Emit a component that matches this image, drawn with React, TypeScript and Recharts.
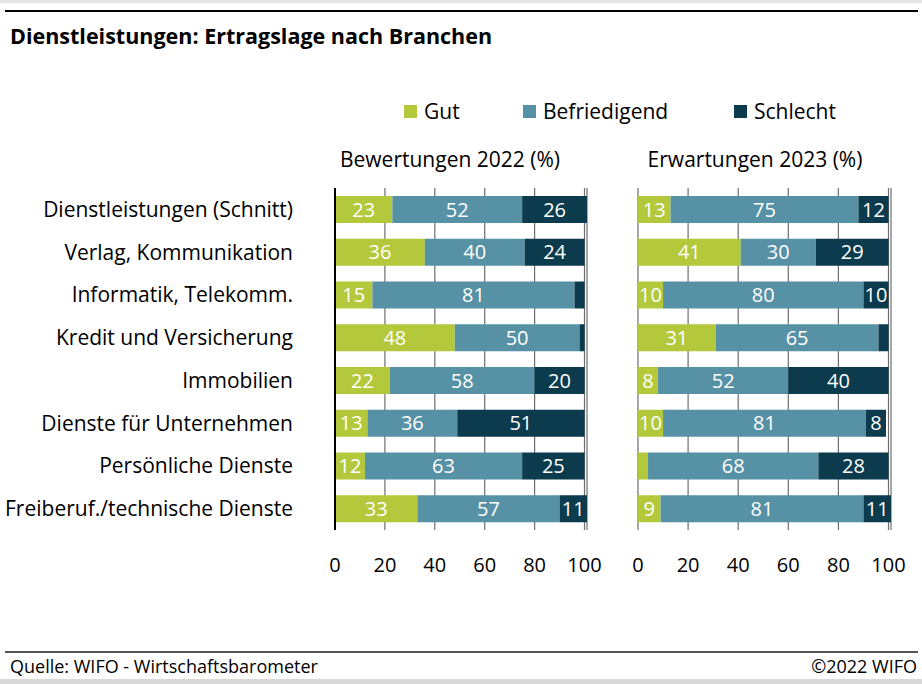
import React from "react";
import {
  BarChart,
  Bar,
  XAxis,
  YAxis,
  CartesianGrid,
  LabelList,
} from "recharts";

const categories = [
  "Dienstleistungen (Schnitt)",
  "Verlag, Kommunikation",
  "Informatik, Telekomm.",
  "Kredit und Versicherung",
  "Immobilien",
  "Dienste für Unternehmen",
  "Persönliche Dienste",
  "Freiberuf./technische Dienste",
];

const gut2022 = [23, 36, 15, 48, 22, 13, 12, 33];
const befr2022 = [52, 40, 81, 50, 58, 36, 63, 57];
const schl2022 = [26, 24, 4, 2, 20, 51, 25, 11];

const gut2023 = [13, 41, 10, 31, 8, 10, 4, 9];
const befr2023 = [75, 30, 80, 65, 52, 81, 68, 81];
const schl2023 = [12, 29, 10, 4, 40, 8, 28, 11];

const xTicks = [0, 20, 40, 60, 80, 100];

const GREEN = "#b3c93b";
const BLUE = "#5791a6";
const DARK = "#0b3b4d";
const FONT = "'Open Sans', sans-serif";

const data2022 = categories.map((name, i) => ({
  name,
  gut: gut2022[i],
  befr: befr2022[i],
  schl: schl2022[i],
}));

const data2023 = categories.map((name, i) => ({
  name,
  gut: gut2023[i],
  befr: befr2023[i],
  schl: schl2023[i],
}));

// small segments carry no label in the original
const hideSmall = (v: any) => (Number(v) >= 5 ? v : "");

function renderBars() {
  const lbl = (key: string) => (
    <LabelList
      dataKey={key}
      position="center"
      fill="#ffffff"
      fontSize={20}
      fontFamily={FONT}
      formatter={hideSmall}
    />
  );
  return [
    <Bar key="gut" dataKey="gut" stackId="a" fill={GREEN} barSize={27} isAnimationActive={false}>
      {lbl("gut")}
    </Bar>,
    <Bar key="befr" dataKey="befr" stackId="a" fill={BLUE} barSize={27} isAnimationActive={false}>
      {lbl("befr")}
    </Bar>,
    <Bar key="schl" dataKey="schl" stackId="a" fill={DARK} barSize={27} isAnimationActive={false}>
      {lbl("schl")}
    </Bar>,
  ];
}

function xAxis() {
  return (
    <XAxis
      type="number"
      domain={[0, 100]}
      ticks={xTicks}
      axisLine={false}
      tickLine={false}
      tickMargin={22}
      height={50}
      tick={{ fontSize: 20, fill: "#000", fontFamily: FONT }}
      interval={0}
    />
  );
}

export default function App() {
  const legend = [
    { label: "Gut", color: GREEN, x: 404 },
    { label: "Befriedigend", color: BLUE, x: 523 },
    { label: "Schlecht", color: DARK, x: 734 },
  ];
  return (
    <div
      style={{
        position: "absolute",
        left: 0,
        top: 0,
        width: 922,
        height: 684,
        background: "#fff",
        fontFamily: FONT,
        color: "#000",
        overflow: "hidden",
      }}
    >
      <div style={{ position: "absolute", left: 0, top: 0, width: 922, height: 3, background: "#e6e6e6" }} />
      <div style={{ position: "absolute", left: 5, top: 10, width: 913, height: 2, background: "#000" }} />
      <div
        style={{
          position: "absolute",
          left: 10,
          top: 21,
          fontSize: 21.5,
          fontWeight: 700,
          whiteSpace: "nowrap",
        }}
      >
        Dienstleistungen: Ertragslage nach Branchen
      </div>

      {legend.map((l) => (
        <div
          key={l.label}
          style={{
            position: "absolute",
            left: l.x,
            top: 97,
            display: "flex",
            alignItems: "center",
            fontSize: 21,
            whiteSpace: "nowrap",
          }}
        >
          <span style={{ display: "inline-block", width: 13, height: 13, background: l.color, marginRight: 7 }} />
          {l.label}
        </div>
      ))}

      <div style={{ position: "absolute", left: 300, width: 300, top: 145, textAlign: "center", fontSize: 21, whiteSpace: "nowrap" }}>
        Bewertungen 2022 (%)
      </div>
      <div style={{ position: "absolute", left: 605, width: 300, top: 145, textAlign: "center", fontSize: 21, whiteSpace: "nowrap" }}>
        Erwartungen 2023 (%)
      </div>

      <div style={{ position: "absolute", left: 0, top: 180 }}>
        <BarChart
          width={616}
          height={400}
          data={data2022}
          layout="vertical"
          margin={{ top: 8, right: 29, bottom: 0, left: 0 }}
          barCategoryGap={0}
        >
          <CartesianGrid horizontal={false} stroke="#6e6e6e" strokeWidth={1.2} />
          {xAxis()}
          <YAxis
            type="category"
            dataKey="name"
            width={335}
            axisLine={{ stroke: "#000", strokeWidth: 2 }}
            tickLine={false}
            tickMargin={36}
            interval={0}
            tick={{ fontSize: 21, fill: "#000", fontFamily: FONT }}
          />
          {renderBars()}
        </BarChart>
      </div>

      <div style={{ position: "absolute", left: 600, top: 180 }}>
        <BarChart
          width={322}
          height={400}
          data={data2023}
          layout="vertical"
          margin={{ top: 8, right: 31, bottom: 0, left: 38 }}
          barCategoryGap={0}
        >
          <CartesianGrid horizontal={false} stroke="#6e6e6e" strokeWidth={1.2} />
          {xAxis()}
          <YAxis
            type="category"
            dataKey="name"
            width={0}
            axisLine={{ stroke: "#000", strokeWidth: 2 }}
            tickLine={false}
            tick={false}
            interval={0}
          />
          {renderBars()}
        </BarChart>
      </div>

      <div style={{ position: "absolute", left: 5, top: 651, width: 913, height: 2, background: "#555" }} />
      <div style={{ position: "absolute", left: 10, top: 654, fontSize: 18, whiteSpace: "nowrap" }}>
        Quelle: WIFO - Wirtschaftsbarometer
      </div>
      <div style={{ position: "absolute", right: 5, top: 654, fontSize: 18, whiteSpace: "nowrap" }}>
        ©2022 WIFO
      </div>
      <div style={{ position: "absolute", left: 0, top: 679, width: 922, height: 5, background: "#d9d9d9" }} />
    </div>
  );
}
